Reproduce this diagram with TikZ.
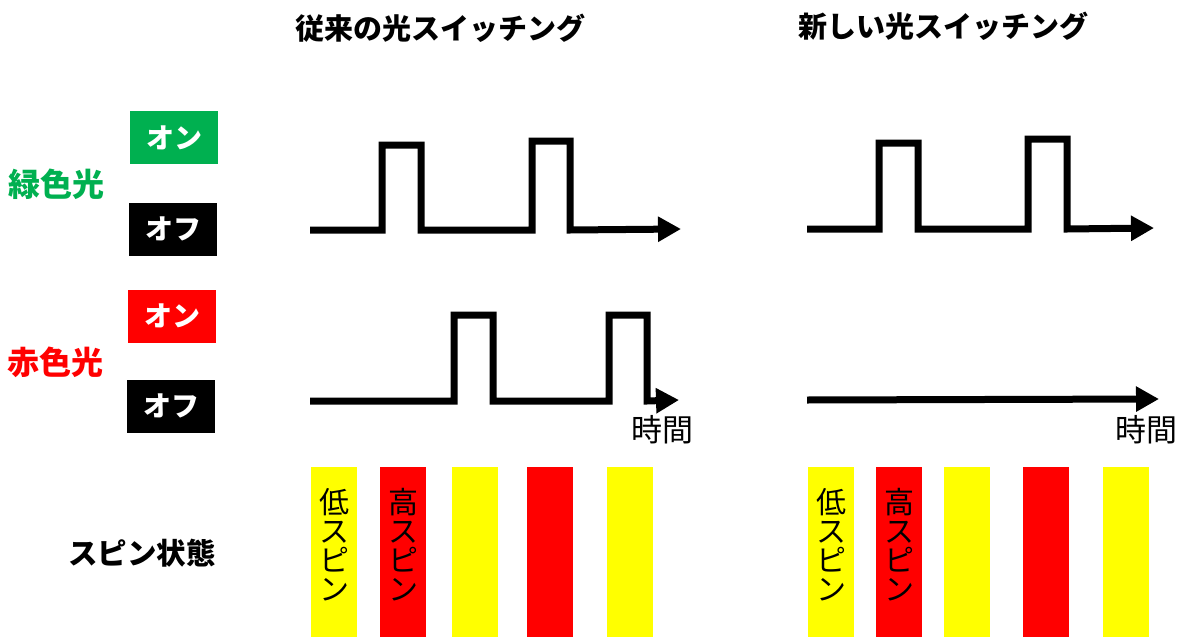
\documentclass[tikz,border=0pt]{standalone}
\usepackage{fontspec}
\newfontfamily\jp{Noto Sans CJK JP}
\usetikzlibrary{arrows.meta}
\definecolor{cgreen}{HTML}{00B050}
\definecolor{cred}{HTML}{FF0000}
\definecolor{cyellow}{HTML}{FFFF00}
\begin{document}
\begin{tikzpicture}[x=1pt,y=-1pt,
  wave/.style={line width=7pt, line join=miter, -{Triangle[length=23pt,width=24pt]}},
  title/.style={font=\jp\bfseries\fontsize{29}{29}\selectfont, inner sep=0pt},
  lightlbl/.style={font=\jp\bfseries\fontsize{32}{32}\selectfont, inner sep=0pt},
  onoff/.style={minimum width=88pt, minimum height=53pt, inner sep=0pt, text=white, font=\jp\bfseries\fontsize{28}{28}\selectfont},
  timelbl/.style={font=\jp\fontsize{31}{31}\selectfont, inner sep=0pt},
  bar/.style={minimum width=46pt, minimum height=170pt, inner sep=0pt, anchor=north},
  vtext/.style={align=center, font=\jp\fontsize{30}{29}\selectfont, inner sep=0pt}
]
\useasboundingbox (0,0) rectangle (1181,637);

% titles
\node[title] (t1) at (440,28) {従来の光スイッチング};
\node[title] (t2) at (943,26) {新しい光スイッチング};

% left labels
\node[lightlbl, text=cgreen] (g) at (57,184) {緑色光};
\node[lightlbl, text=cred] (r) at (56,362) {赤色光};
\node[onoff, fill=cgreen] (gon) at (174,137.5) {オン};
\node[onoff, fill=black] (goff) at (173,229) {オフ};
\node[onoff, fill=cred] (ron) at (172,316) {オン};
\node[onoff, fill=black] (roff) at (171,406) {オフ};
\node[lightlbl, font=\jp\bfseries\fontsize{29.5}{29.5}\selectfont] (spin) at (142,553) {スピン状態};

% left waveforms
\draw[wave] (310,230) -- (382,230) -- (382,145) -- (421,145) -- (421,230)
  -- (532,230) -- (532,141) -- (570,141) -- (570,230) -- (681,229);
\draw[wave] (310,401) -- (454,401) -- (454,315) -- (493,315) -- (493,401)
  -- (609,401) -- (609,315) -- (647,315) -- (647,401) -- (679,400);
\node[timelbl] (time1) at (662,430) {時間};

% right waveforms
\draw[wave] (807,229) -- (879,229) -- (879,143) -- (918,143) -- (918,229)
  -- (1028,229) -- (1028,139) -- (1067,139) -- (1067,229) -- (1154,228);
\draw[wave] (807,400) -- (1159,399);
\node[timelbl] (time2) at (1146,430) {時間};

% spin bars left
\node[bar, fill=cyellow] (l1) at (334,467) {};
\node[bar, fill=cred] (l2) at (403,467) {};
\node[bar, fill=cyellow] (l3) at (475,467) {};
\node[bar, fill=cred] (l4) at (550,467) {};
\node[bar, fill=cyellow] (l5) at (630,467) {};
\node[vtext] (l1t) at (334,545) {低\\ス\\ピ\\ン};
\node[vtext] (l2t) at (403,545) {高\\ス\\ピ\\ン};

% spin bars right
\node[bar, fill=cyellow] (r1) at (831,467) {};
\node[bar, fill=cred] (r2) at (899,467) {};
\node[bar, fill=cyellow] (r3) at (967,467) {};
\node[bar, fill=cred] (r4) at (1046,467) {};
\node[bar, fill=cyellow] (r5) at (1126,467) {};
\node[vtext] (r1t) at (831,545) {低\\ス\\ピ\\ン};
\node[vtext] (r2t) at (899,545) {高\\ス\\ピ\\ン};
\end{tikzpicture}
\end{document}
